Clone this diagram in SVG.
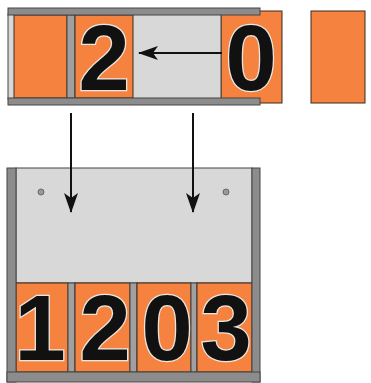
<svg xmlns="http://www.w3.org/2000/svg" width="371" height="383" viewBox="0 0 371 383">
<defs>
<style>
.or{fill:#f5823f;stroke:#3a2a22;stroke-width:1}
.rail{fill:#8c8c8c;stroke:#444;stroke-width:1}
.div{fill:#a0a0a0;stroke:#444;stroke-width:1}
.pan{fill:#d8d8d8;stroke:#444;stroke-width:1}
.dig{font-family:"Liberation Sans",Arial,sans-serif;font-weight:bold;font-size:92px;fill:#111;stroke:#ece6e0;stroke-width:2.5;paint-order:stroke;text-anchor:middle}
.ln{stroke:#111;stroke-width:2;fill:none}
</style>
<marker id="ah" markerWidth="20" markerHeight="14" refX="19" refY="7" orient="auto" markerUnits="userSpaceOnUse">
<path d="M0,0 L20,7 L0,14 L5,7 Z" fill="#111"/>
</marker>
</defs>
<rect width="371" height="383" fill="#ffffff"/>

<g id="top-holder">
<rect class="or" x="221" y="11" width="61" height="92"/>
<rect class="pan" x="8" y="14" width="213" height="85"/>
<rect class="or" x="14" y="15" width="53" height="83"/>
<rect class="div" x="67" y="15" width="8" height="83"/>
<rect class="or" x="75" y="15" width="58" height="83"/>
<rect class="rail" x="8" y="8" width="252" height="7"/>
<rect class="rail" x="8" y="98" width="252" height="7"/>
<text class="dig" x="104" y="90">2</text>
<text class="dig" x="251" y="90">0</text>
</g>

<g id="spare">
<rect class="or" x="311" y="11" width="54" height="92"/>
</g>

<g id="bottom-holder">
<rect class="pan" x="16" y="168" width="236" height="115"/>
<circle cx="41" cy="192" r="3" fill="#999" stroke="#555" stroke-width="0.8"/>
<circle cx="226" cy="192" r="3" fill="#999" stroke="#555" stroke-width="0.8"/>
<rect class="or" x="16" y="283" width="52" height="89"/>
<rect class="div" x="68" y="283" width="7" height="89"/>
<rect class="or" x="75" y="283" width="55" height="89"/>
<rect class="div" x="130" y="283" width="7" height="89"/>
<rect class="or" x="137" y="283" width="54" height="89"/>
<rect class="div" x="191" y="283" width="6" height="89"/>
<rect class="or" x="197" y="283" width="55" height="89"/>
<rect class="rail" x="7" y="168" width="9" height="214"/>
<rect class="rail" x="252" y="168" width="8" height="214"/>
<rect class="rail" x="7" y="372" width="253" height="10"/>
<text class="dig" x="40" y="360">1</text>
<text class="dig" x="105" y="360">2</text>
<text class="dig" x="167" y="360">0</text>
<text class="dig" x="226" y="360">3</text>
</g>

<g id="connectors">
<line class="ln" x1="222" y1="53" x2="139" y2="53" marker-end="url(#ah)"/>
<line class="ln" x1="71" y1="113" x2="71" y2="212" marker-end="url(#ah)"/>
<line class="ln" x1="193" y1="113" x2="193" y2="212" marker-end="url(#ah)"/>
</g>
</svg>
